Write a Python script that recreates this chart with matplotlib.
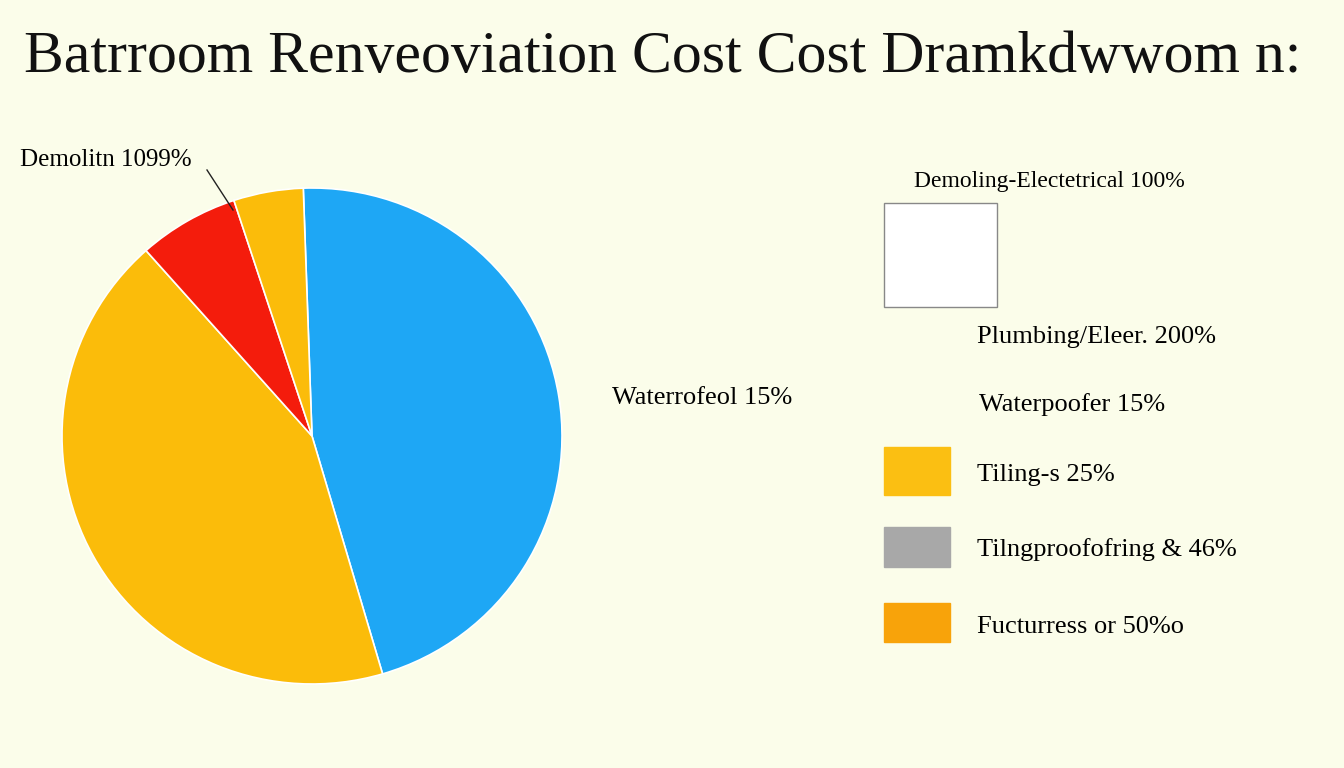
import matplotlib.pyplot as plt
from matplotlib.patches import Rectangle

# Pie data (percent of circle)
slice_values = [46, 43, 6.5, 4.5]
slice_colors = ['#1ea7f5', '#fbbc0a', '#f41c0c', '#fbbc0a']

# Legend entries on the right
legend_labels = ['Demoling-Electetrical 100%', 'Plumbing/Eleer. 200%', 'Waterpoofer 15%',
                 'Tiling-s 25%', 'Tilngproofofring & 46%', 'Fucturress or 50%o']
legend_colors = ['white', None, None, '#fbbf12', '#a8a8a8', '#f8a30a']

TITLE = 'Batrroom Renveoviation Cost Cost Dramkdwwom n:'
BG = '#fbfdea'
W, H = 1344, 768

fig = plt.figure(figsize=(W / 100, H / 100), dpi=100, facecolor=BG)
serif = ['Liberation Serif', 'DejaVu Serif']

def fx(x):
    return x / W

def fy(y):
    return 1 - y / H

fig.text(fx(24), fy(58), TITLE, family=serif, fontsize=43, va='center', ha='left', color='#111111')

# pie
ax = fig.add_axes([fx(62), fy(684), fx(500), 496 / H])
ax.set_facecolor(BG)
ax.pie(slice_values, colors=slice_colors, startangle=92, counterclock=False,
       wedgeprops=dict(edgecolor='white', linewidth=1.2))
ax.set_aspect('auto')
ax.set_xlim(-1.0, 1.0)
ax.set_ylim(-1.0, 1.0)

fig.text(fx(20), fy(160), 'Demolitn 1099%', family=serif, fontsize=18, va='center')
fig.add_artist(plt.Line2D([fx(207), fx(233)], [fy(170), fy(210)], color='#222222', lw=1))
fig.text(fx(612), fy(398), 'Waterrofeol 15%', family=serif, fontsize=19, va='center')

# legend column
text_pos = [(914, 182), (977, 337), (979, 405), (977, 475), (977, 550), (977, 627)]
swatches = [(884, 203, 113, 104), None, None, (884, 447, 66, 48), (884, 527, 66, 40), (884, 603, 66, 39)]
for label, color, (tx, ty), sw in zip(legend_labels, legend_colors, text_pos, swatches):
    fig.text(fx(tx), fy(ty), label, family=serif, fontsize=19 if tx > 950 else 17, va='center')
    if sw is not None:
        x, y, w, h = sw
        fig.add_artist(Rectangle((fx(x), fy(y + h)), fx(w), h / H, facecolor=color,
                                 edgecolor='#888888' if color == 'white' else color, lw=1))

fig.savefig('out.png', dpi=100, facecolor=BG)
